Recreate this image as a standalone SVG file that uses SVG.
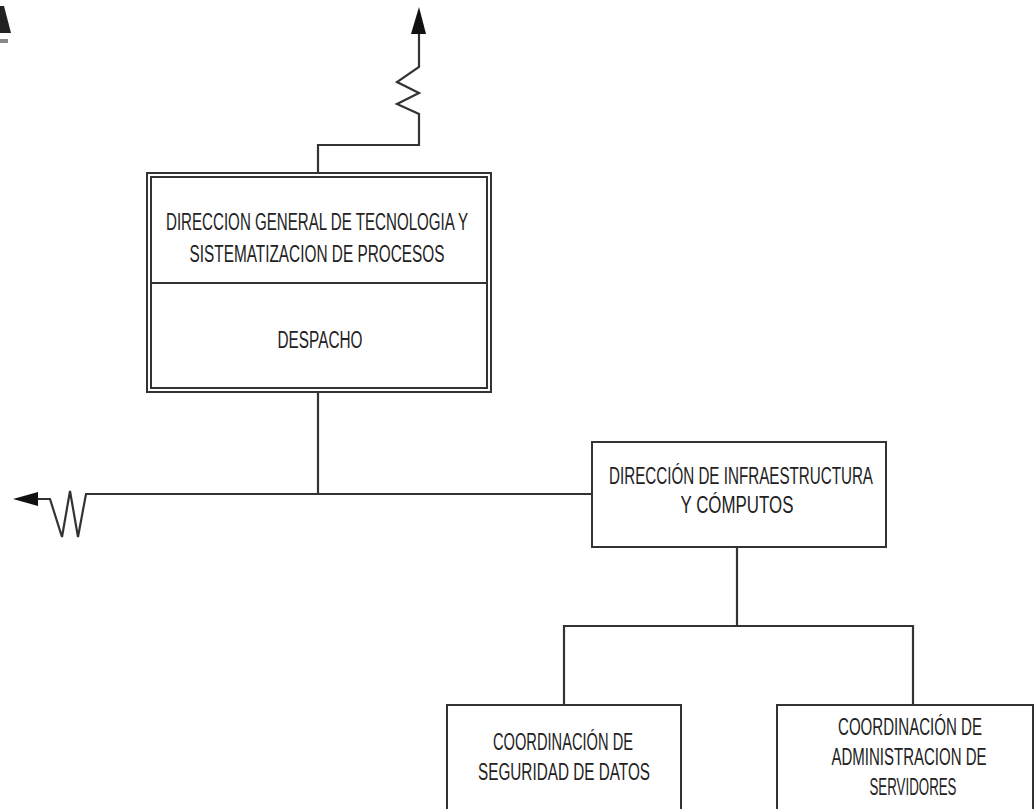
<svg xmlns="http://www.w3.org/2000/svg" width="1035" height="809" viewBox="0 0 1035 809">
<defs>
<style>
.box{fill:#fff;stroke:#333;stroke-width:2}
.ln{fill:none;stroke:#333;stroke-width:2.2}
.t{font-family:"Liberation Sans Narrow","Liberation Sans",Arial,sans-serif;font-size:23px;fill:#222;text-anchor:middle}
</style>
</defs>
<rect width="1035" height="809" fill="#fff"/>
<g id="logo-fragment">
<polygon points="0,6 4,6 11,33 0,33" fill="#222"/>
<rect x="0" y="39" width="8" height="4" fill="#888"/>
</g>
<g id="connectors">
<path class="ln" d="M318,173 V145 H419 V114 L397,104 L419,93 L397,82 L419,67 V34"/>
<polygon points="419,7 411,34 426,34" fill="#111"/>
<path class="ln" d="M318,392 V494"/>
<path class="ln" d="M592,494 H86 L78,537 L70,491 L62,537 L50,499 H38"/>
<polygon points="13,499 38,492 38,506" fill="#111"/>
<path class="ln" d="M737,547 V626"/>
<path class="ln" d="M564,705 V626 H913 V705"/>
</g>
<g id="node-direccion-general">
<rect x="147" y="173" width="344" height="219" fill="#fff" stroke="#333" stroke-width="2"/>
<rect x="151" y="177" width="336" height="211" fill="none" stroke="#333" stroke-width="2"/>
<line x1="151" y1="283" x2="487" y2="283" stroke="#333" stroke-width="2"/>
<text class="t" x="317" y="230" textLength="302" lengthAdjust="spacingAndGlyphs">DIRECCION GENERAL DE TECNOLOGIA Y</text>
<text class="t" x="317" y="262" textLength="255" lengthAdjust="spacingAndGlyphs">SISTEMATIZACION DE PROCESOS</text>
<text class="t" x="320" y="348" textLength="85" lengthAdjust="spacingAndGlyphs">DESPACHO</text>
</g>
<g id="node-infraestructura">
<rect class="box" x="592" y="442" width="294" height="105"/>
<text class="t" x="741" y="484" textLength="264" lengthAdjust="spacingAndGlyphs">DIRECCIÓN DE INFRAESTRUCTURA</text>
<text class="t" x="737" y="513" textLength="113" lengthAdjust="spacingAndGlyphs">Y CÓMPUTOS</text>
</g>
<g id="node-seguridad">
<rect class="box" x="447" y="705" width="234" height="120"/>
<text class="t" x="563" y="750" textLength="140" lengthAdjust="spacingAndGlyphs">COORDINACIÓN DE</text>
<text class="t" x="564" y="780" textLength="172" lengthAdjust="spacingAndGlyphs">SEGURIDAD DE DATOS</text>
</g>
<g id="node-servidores">
<rect class="box" x="777" y="705" width="256" height="120"/>
<text class="t" x="910" y="735" textLength="144" lengthAdjust="spacingAndGlyphs">COORDINACIÓN DE</text>
<text class="t" x="909" y="765" textLength="155" lengthAdjust="spacingAndGlyphs">ADMINISTRACION DE</text>
<text class="t" x="913" y="795" textLength="87" lengthAdjust="spacingAndGlyphs">SERVIDORES</text>
</g>
</svg>
